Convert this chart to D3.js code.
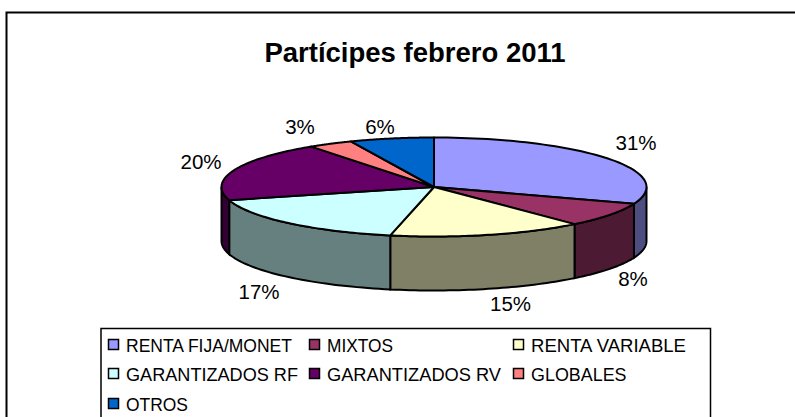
<!DOCTYPE html>
<html>
<head>
<meta charset="utf-8">
<script src="https://cdn.jsdelivr.net/npm/d3@7"></script>
<style>
    html, body { margin: 0; padding: 0; background: #fff; overflow: hidden; }
    text { font-family: "Liberation Sans", Arial, sans-serif; fill: #000; }
</style>
</head>
<body>
<div id="chart"></div>
<script>
const title = "Partícipes febrero 2011";
const categories = ["RENTA FIJA/MONET", "MIXTOS", "RENTA VARIABLE", "GARANTIZADOS RF", "GARANTIZADOS RV", "GLOBALES", "OTROS"];
// Shares (the labels show them rounded)
const shares = [30.5, 8.0, 14.8, 17.4, 19.5, 3.4, 6.4];
const colors = ["#9999ff", "#993366", "#ffffcc", "#ccffff", "#660066", "#ff8080", "#0066cc"];

const width = 795, height = 417;
const cx = 434, cy = 187, rx = 212.5, ry = 49.5, depth = 54;

const svg = d3.select("#chart").append("svg")
    .attr("width", width)
    .attr("height", height)
    .style("display", "block");

// Cadre extérieur (le bord droit et le bas sont hors de l'image)
svg.append("path")
    .attr("d", d3.line()([[6.5, height], [6.5, 12.5], [width, 12.5]]))
    .attr("fill", "none").attr("stroke", "#000").attr("stroke-width", 2);

svg.append("text")
    .attr("x", 415).attr("y", 62)
    .attr("text-anchor", "middle")
    .style("font-size", "27.5px").style("font-weight", "bold")
    .text(title);

const pie = d3.pie().sort(null).value(d => d);
const slices = pie(shares);

// Angle measured clockwise from the top of the ellipse
const px = a => cx + rx * Math.sin(a);
const py = a => cy - ry * Math.cos(a);

const line = d3.line();

// Parois visibles (moitié avant de l'ellipse)
const front0 = Math.PI / 2, front1 = Math.PI * 1.5;
slices.forEach((s, i) => {
    const a0 = Math.max(s.startAngle, front0), a1 = Math.min(s.endAngle, front1);
    if (a1 <= a0) return;
    const steps = d3.range(0, 41).map(k => a0 + (a1 - a0) * k / 40);
    const pts = steps.map(a => [px(a), py(a)])
        .concat(steps.slice().reverse().map(a => [px(a), py(a) + depth]));
    const c = d3.rgb(colors[i]);
    svg.append("path")
        .attr("d", line(pts) + "Z")
        .attr("fill", d3.rgb(c.r / 2, c.g / 2, c.b / 2))
        .attr("stroke", "#000").attr("stroke-width", 2);
});

// Face supérieure
slices.forEach((s, i) => {
    const steps = d3.range(0, 61).map(k => s.startAngle + (s.endAngle - s.startAngle) * k / 60);
    const pts = [[cx, cy]].concat(steps.map(a => [px(a), py(a)]));
    svg.append("path")
        .attr("d", line(pts) + "Z")
        .attr("fill", colors[i])
        .attr("stroke", "#000").attr("stroke-width", 2)
        .attr("stroke-linejoin", "round");
});

// Étiquettes de pourcentage
const labelX = [636, 633, 510.5, 259, 201, 300, 380];
const labelY = [150, 286, 311, 299, 169, 134, 134];
svg.selectAll(".pct")
    .data(shares)
    .join("text")
    .attr("class", "pct")
    .attr("x", (d, i) => labelX[i])
    .attr("y", (d, i) => labelY[i])
    .attr("text-anchor", "middle")
    .style("font-size", "20.5px")
    .text(d => `${Math.round(d)}%`);

// Légende
svg.append("rect")
    .attr("x", 101).attr("y", 328.5)
    .attr("width", 609.5).attr("height", 110)
    .attr("fill", "#fff").attr("stroke", "#000").attr("stroke-width", 1.5);

const legendCol = d3.scaleOrdinal().domain([0, 1, 2]).range([108, 309, 513]);
const legendRow = d3.scaleOrdinal().domain([0, 1, 2]).range([345, 374, 404]);
const legendTextWidth = [166, 66, 155, 172, 174, 95.5, 62];

const item = svg.selectAll(".legend-item")
    .data(categories)
    .join("g")
    .attr("class", "legend-item")
    .attr("transform", (d, i) => `translate(${legendCol(i % 3)}, ${legendRow(Math.floor(i / 3))})`);

item.append("rect")
    .attr("x", 0.5).attr("y", -5.5)
    .attr("width", 10).attr("height", 10)
    .attr("fill", (d, i) => colors[i])
    .attr("stroke", "#000").attr("stroke-width", 1.5);

item.append("text")
    .attr("x", 18).attr("y", 6.5)
    .attr("textLength", (d, i) => legendTextWidth[i])
    .attr("lengthAdjust", "spacingAndGlyphs")
    .style("font-size", "18px")
    .text(d => d);
</script>
</body>
</html>
